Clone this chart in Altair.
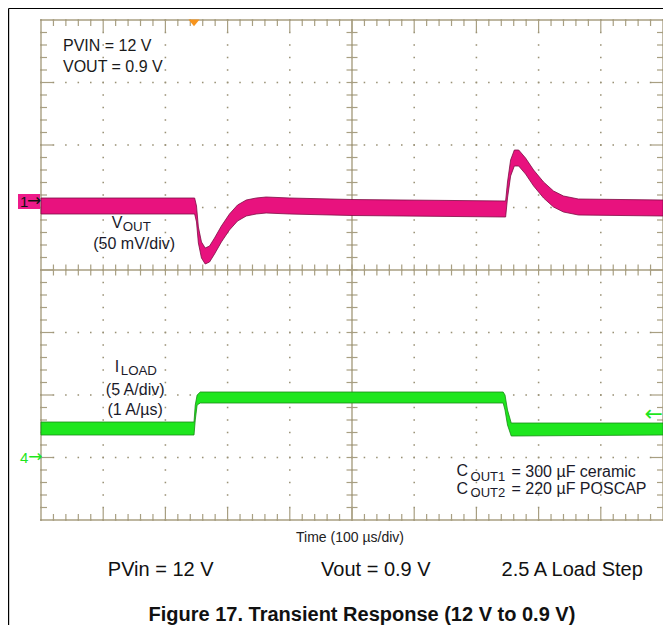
import altair as alt
import pandas as pd
import numpy as np

# ---------------- data ----------------
# time axis: 100 us/div, 10 div ; vertical: 8 div (values below in divisions)
vout_t  = [0, 247, 250, 253, 258, 264, 271, 279, 290, 303, 316, 330, 346, 362, 400, 500,
           747, 750, 755, 761, 768, 779, 792, 808, 824, 840, 864, 1000]
vout_hi = [1.152, 1.152, 1.024, 0.688, 0.448, 0.352, 0.384, 0.512, 0.704, 0.896, 1.04, 1.12,
           1.152, 1.168, 1.152, 1.128, 1.104, 1.408, 1.76, 1.92, 1.92, 1.792, 1.6, 1.408,
           1.264, 1.184, 1.136, 1.12]
vout_lo = [0.896, 0.896, 0.768, 0.432, 0.192, 0.096, 0.128, 0.256, 0.448, 0.64, 0.784, 0.864,
           0.896, 0.912, 0.896, 0.872, 0.848, 1.152, 1.504, 1.664, 1.664, 1.536, 1.344, 1.152,
           1.008, 0.928, 0.88, 0.864]

iload_t  = [0, 246, 248, 251, 256, 500, 743, 746, 750, 756, 1000]
iload_hi = [-2.432, -2.432, -2.16, -2.0, -1.952, -1.952, -1.952, -2.0, -2.24, -2.448, -2.448]
iload_lo = [-2.64, -2.64, -2.4, -2.16, -2.128, -2.128, -2.128, -2.24, -2.48, -2.656, -2.64]

trigger_t = [246]
trigger_y = [3.952]

# ---------------- geometry helpers ----------------
W, H = 622, 500
PX_X = W / 1000.0      # px per us
PX_Y = H / 8.0         # px per div
GRID = "#a89f82"
PINK = "#e8127e"
GREEN = "#1ee61e"
FONT = "Liberation Sans"

xs = alt.Scale(domain=[0, 1000], nice=False, zero=False)
ys = alt.Scale(domain=[-4, 4], nice=False, zero=False)
X = lambda f="x": alt.X(f"{f}:Q", scale=xs, axis=None)
Y = lambda f="y": alt.Y(f"{f}:Q", scale=ys, axis=None)

# grid dots
dots = []
for xm in range(0, 1001, 100):
    for k in range(41):
        dots.append((xm, -4 + k * 0.2))
for ym in range(-4, 5):
    for k in range(51):
        dots.append((k * 20, ym))
dots_df = pd.DataFrame(dots, columns=["x", "y"])

# segments: frame, centre cross, ticks
segs = []
def seg(x, y, x2, y2, w):
    segs.append(dict(x=x, y=y, x2=x2, y2=y2, w=w))

seg(0, 4, 1000, 4, 1.4); seg(0, -4, 1000, -4, 1.4)
seg(0, -4, 0, 4, 1.4); seg(1000, -4, 1000, 4, 1.4)
seg(0, 0, 1000, 0, 1.4); seg(500, -4, 500, 4, 1.4)
for xv in range(20, 1000, 20):
    L = (12 if xv % 100 == 0 else 6) / PX_Y
    seg(xv, 4, xv, 4 - L, 1.2)
    seg(xv, -4, xv, -4 + L, 1.2)
    c = 5.5 / PX_Y
    seg(xv, -c, xv, c, 1.2)
for k in range(1, 40):
    yv = -4 + k * 0.2
    L = (12 if k % 5 == 0 else 6) / PX_X
    seg(0, yv, L, yv, 1.2)
    seg(1000, yv, 1000 - L, yv, 1.2)
    c = 5.5 / PX_X
    seg(500 - c, yv, 500 + c, yv, 1.2)
segs_df = pd.DataFrame(segs)

# outer page border (black)
border_df = pd.DataFrame([
    dict(x=-52.1, y=4.184, x2=-52.1, y2=-5.9),
    dict(x=-52.1, y=4.184, x2=1010, y2=4.184),
])

vout_df = pd.DataFrame(dict(t=vout_t, hi=vout_hi, lo=vout_lo))
iload_df = pd.DataFrame(dict(t=iload_t, hi=iload_hi, lo=iload_lo))
trig_df = pd.DataFrame(dict(x=trigger_t, y=trigger_y))

# channel-1 marker box
box_df = pd.DataFrame([dict(x=-37, x2=-1.6, y=1.216, y2=0.976)])

# texts
left_txt = pd.DataFrame([
    ("PVIN = 12 V", 35.3, 3.584, 16, "#1a1a1a"),
    ("VOUT = 0.9 V", 35.3, 3.248, 16, "#1a1a1a"),
    ("V", 113.8, 0.76, 16, "#1a1a2a"),
    ("OUT", 131.4, 0.688, 13.3, "#1a1a2a"),
    ("I", 118.6, -1.552, 16, "#1a1a2a"),
    ("LOAD", 128.2, -1.608, 13.3, "#1a1a2a"),
    ("C", 668, -3.216, 16, "#1a1a2a"),
    ("OUT1", 690.7, -3.312, 13, "#1a1a2a"),
    ("= 300 µF ceramic", 756.4, -3.232, 16, "#1a1a2a"),
    ("C", 668, -3.496, 16, "#1a1a2a"),
    ("OUT2", 690.7, -3.568, 13, "#1a1a2a"),
    ("= 220 µF POSCAP", 756.4, -3.504, 16, "#1a1a2a"),
    ("PVin = 12 V", 107.4, -4.8, 20, "#111111"),
    ("Vout = 0.9 V", 450.3, -4.8, 20, "#111111"),
    ("2.5 A Load Step", 740.4, -4.8, 20, "#111111"),
], columns=["text", "x", "y", "size", "color"])

center_txt = pd.DataFrame([
    ("(50 mV/div)", 149.8, 0.424, 16, "#1a1a2a"),
    ("(5 A/div)", 151.4, -1.92, 16, "#1a1a2a"),
    ("(1 A/µs)", 151.4, -2.24, 16, "#1a1a2a"),
    ("Time (100 µs/div)", 496.8, -4.29, 14, "#222222"),
    ("1", -27, 1.096, 15, "#111111"),
    ("4", -27, -3.0, 15, GREEN),
], columns=["text", "x", "y", "size", "color"])

arrow_txt = pd.DataFrame([
    ("→", -11, 1.11, 17, "#111111"),
    ("→", -9, -2.985, 17, GREEN),
    ("←", 985, -2.3, 22, GREEN),
], columns=["text", "x", "y", "size", "color"])

caption_txt = pd.DataFrame([
    ("Figure 17. Transient Response (12 V to 0.9 V)", 516, -5.52, 20, "#111111"),
], columns=["text", "x", "y", "size", "color"])

# ---------------- layers ----------------
dots_l = alt.Chart(dots_df).mark_square(size=2.4, color="#9a9276", opacity=1).encode(x=X(), y=Y())

segs_l = alt.Chart(segs_df).mark_rule(color=GRID).encode(
    x=X(), y=Y(), x2="x2:Q", y2="y2:Q",
    strokeWidth=alt.StrokeWidth("w:Q", scale=None))

border_l = alt.Chart(border_df).mark_rule(color="#000000", strokeWidth=1.2).encode(
    x=X(), y=Y(), x2="x2:Q", y2="y2:Q")

vout_l = alt.Chart(vout_df).mark_area(color=PINK, stroke="#7c0c44", strokeWidth=0.8,
                                      opacity=1).encode(
    x=X("t"), y=Y("hi"), y2="lo:Q")

iload_l = alt.Chart(iload_df).mark_area(color=GREEN, stroke="#178c14", strokeWidth=0.8,
                                        opacity=1).encode(
    x=X("t"), y=Y("hi"), y2="lo:Q")

trig_l = alt.Chart(trig_df).mark_point(shape="M-1,-0.65L1,-0.65L0,0.6Z", filled=True,
                                       size=121, color="#f7941d", opacity=1).encode(x=X(), y=Y())

box_l = alt.Chart(box_df).mark_rect(color="#ee1a8a").encode(x=X(), x2="x2:Q", y=Y(), y2="y2:Q")

def txt(df, align, weight="normal", font=FONT):
    return alt.Chart(df).mark_text(align=align, baseline="middle", font=font,
                                   fontWeight=weight).encode(
        x=X(), y=Y(), text="text:N",
        size=alt.Size("size:Q", scale=None),
        color=alt.Color("color:N", scale=None))

chart = alt.layer(
    dots_l, segs_l, border_l, vout_l, iload_l, trig_l, box_l,
    txt(left_txt, "left"), txt(center_txt, "center"),
    txt(arrow_txt, "center", font="DejaVu Sans"),
    txt(caption_txt, "center", weight="bold"),
).properties(
    width=W, height=H,
    padding={"left": 33, "top": 12, "right": 0, "bottom": 105},
    autosize=alt.AutoSizeParams(type="none"),
    background="white",
).configure_view(stroke=None)

chart.save("out.html", embed_options={"renderer": "svg", "actions": False})
